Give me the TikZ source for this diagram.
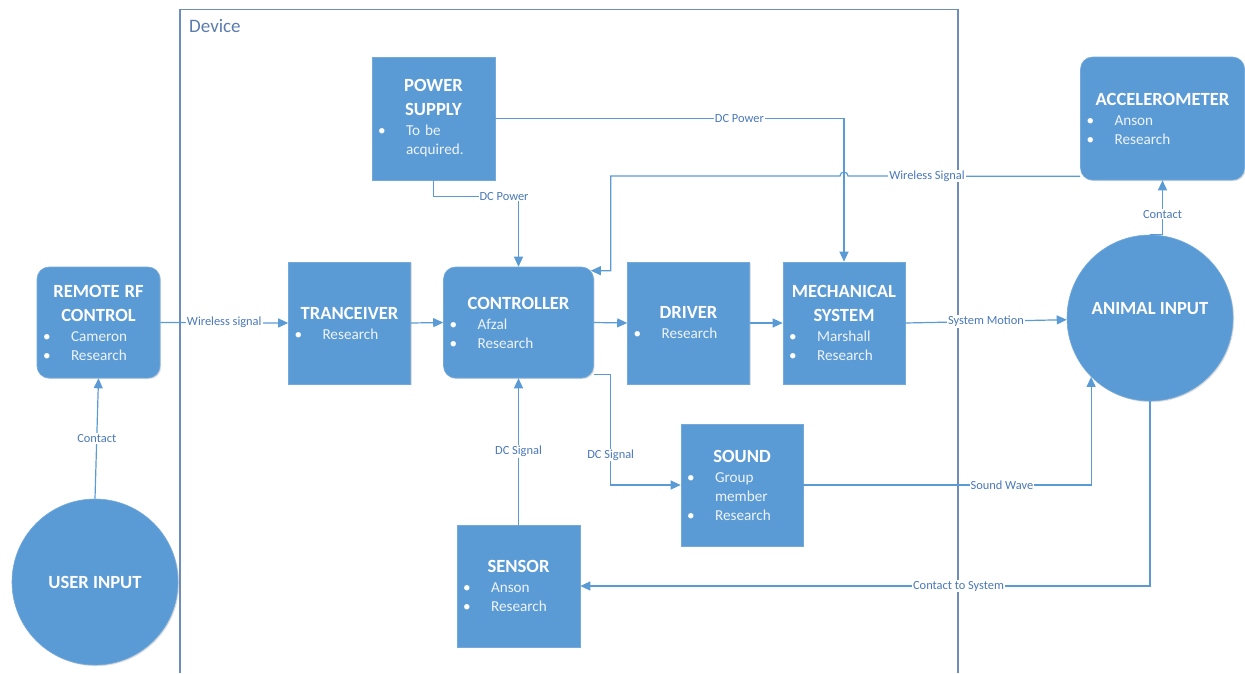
\documentclass[tikz,border=0pt]{standalone}
\usepackage{fontspec}
\setmainfont{Carlito}
\usetikzlibrary{arrows.meta,shadows,calc}
\definecolor{boxblue}{HTML}{5B9BD5}
\definecolor{lineblue}{HTML}{5B9BD5}
\definecolor{lblblue}{HTML}{4A78BA}
\definecolor{framecol}{HTML}{6F8DB9}
\definecolor{devtext}{HTML}{5A7BAE}
\definecolor{bultext}{HTML}{EEF3FA}
\newcommand\btitle{\fontsize{18.6}{24}\selectfont\bfseries\color{white}}
\newcommand\blt[1]{\makebox[\linewidth][l]{\hspace*{6pt}\makebox[28pt][l]{\color{white}\textbullet}#1}}
\newcommand\bcont[1]{\makebox[\linewidth][l]{\hspace*{34pt}#1}}
\begin{document}
\begin{tikzpicture}[x=1pt,y=-1pt,
  box/.style={fill=boxblue, draw=boxblue!85!white, line width=0.6pt, text=bultext,
    align=center, inner sep=0pt, font=\fontsize{15.2}{19}\selectfont,
    drop shadow={shadow xshift=1.2pt, shadow yshift=-1.2pt, opacity=0.25}},
  sqbox/.style={box, rectangle},
  rbox/.style={box, rectangle, rounded corners=12pt},
  circ/.style={circle, fill=boxblue, draw=boxblue!85!white, line width=0.6pt,
    minimum size=166pt, inner sep=0pt,
    drop shadow={shadow xshift=1.2pt, shadow yshift=-1.2pt, opacity=0.25}},
  ctext/.style={text=white, font=\fontsize{18.6}{22}\selectfont\bfseries, inner sep=0pt},
  arr/.style={draw=lineblue, line width=1.2pt, -{Triangle[length=10pt,width=9pt]}},
  lbl/.style={fill=white, text=lblblue, font=\fontsize{12.4}{14}\selectfont, inner sep=1pt}
]
\useasboundingbox (0,0) rectangle (1245,673);

% device frame
\draw[framecol, line width=1.3pt] (180,673) -- (180,9.5) -- (958,9.5) -- (958,673);
\node[anchor=west, text=devtext, font=\fontsize{19}{22}\selectfont, inner sep=0pt] (devlbl) at (189,26) {Device};

% nodes
\node[sqbox, text width=123pt, minimum height=123pt] (ps) at (433.5,118.5)
  {{\btitle POWER\\ SUPPLY\\[1pt]}\blt{To be}\\\bcont{acquired.}};
\node[rbox, text width=164pt, minimum height=123pt] (acc) at (1162.5,118.5)
  {{\btitle ACCELEROMETER\\[1pt]}\blt{Anson}\\\blt{Research}};
\node[rbox, text width=123pt, minimum height=111pt] (rf) at (98.5,322.5)
  {{\btitle REMOTE RF\\ CONTROL\\[1pt]}\blt{Cameron}\\\blt{Research}};
\node[sqbox, text width=122pt, minimum height=122pt] (tr) at (349.5,323)
  {{\btitle TRANCEIVER\\[1pt]}\blt{Research}};
\node[rbox, text width=150pt, minimum height=111pt] (ctrl) at (518.5,322.5)
  {{\btitle CONTROLLER\\[1pt]}\blt{Afzal}\\\blt{Research}};
\node[sqbox, text width=122pt, minimum height=122pt] (drv) at (688.5,323)
  {{\btitle DRIVER\\[1pt]}\blt{Research}};
\node[sqbox, text width=122pt, minimum height=122pt] (mech) at (844,323)
  {{\btitle MECHANICAL\\ SYSTEM\\[1pt]}\blt{Marshall}\\\blt{Research}};
\node[sqbox, text width=122pt, minimum height=122pt] (snd) at (742,485)
  {{\btitle SOUND\\[1pt]}\blt{Group}\\\bcont{member}\\\blt{Research}};
\node[sqbox, text width=123pt, minimum height=122pt] (sen) at (518.5,586)
  {{\btitle SENSOR\\[1pt]}\blt{Anson}\\\blt{Research}};
\node[circ] (user) at (95,582) {};
\node[ctext] (usertxt) at (95,582) {USER INPUT};
\node[circ] (animal) at (1150,318) {};
\node[ctext] (animaltxt) at (1150,309) {ANIMAL INPUT};

% connectors
\draw[arr] (rf.east) -- node[lbl] {Wireless signal} (tr.west);
\draw[arr] (tr.east) -- (ctrl.west);
\draw[arr] (ctrl.east) -- (drv.west);
\draw[arr] (drv.east) -- (mech.west);
\draw[arr] (mech.east) -- node[lbl] {System Motion} (animal);
\draw[arr] (user.north) -- node[lbl] {Contact} (rf.south);
\draw[arr] (ps.south) |- ++(0,16) -| node[lbl, pos=0.415] {DC Power} (ctrl.north);
\draw[arr] (ps.east) -| node[lbl, pos=0.35] {DC Power} (mech.north);
\coordinate (hopR) at (848,176);
\draw[arr] ([yshift=4pt]acc.south west) -- node[lbl, pos=0.66] {Wireless Signal} (hopR)
  arc[start angle=0, end angle=-180, radius=4]
  -| ([xshift=17pt,yshift=-4pt]ctrl.north east) -- ([xshift=-3pt,yshift=-4pt]ctrl.north east);
\draw[arr] (animal.north) -| node[lbl, pos=0.69] {Contact} (acc.south);
\draw[arr] ([yshift=4pt]ctrl.south east) -| node[lbl, pos=0.865] {DC Signal} ([xshift=-70pt]snd.west) -- (snd.west);
\draw[arr] (sen.north) -- node[lbl] {DC Signal} (ctrl.south);
\draw[arr] (snd.east) -| node[lbl, pos=0.345] {Sound Wave} (animal.south west);
\draw[arr] (animal.south) |- node[lbl, pos=0.668] {Contact to System} (sen.east);
\end{tikzpicture}
\end{document}
